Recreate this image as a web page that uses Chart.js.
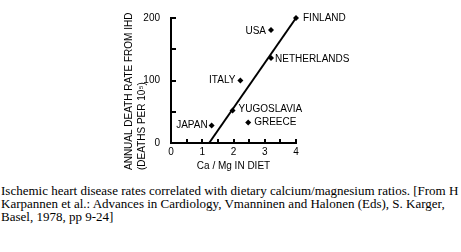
<!DOCTYPE html>
<html>
<head>
<meta charset="utf-8">
<script src="https://cdn.jsdelivr.net/npm/chart.js@4/dist/chart.umd.min.js"></script>
<style>
  html, body { margin: 0; padding: 0; background: #fff; width: 461px; height: 252px; overflow: hidden; }
  #wrap { position: absolute; left: 0; top: 0; width: 461px; height: 175px; }
  #caption { position: absolute; left: 1px; top: 184px; width: 470px; font: 13px "Liberation Serif", "Times New Roman", serif; line-height: 13px; color: #000; white-space: nowrap; }
</style>
</head>
<body>
<div id="wrap"><canvas id="c" width="461" height="175"></canvas></div>
<div id="caption">Ischemic heart disease rates correlated with dietary calcium/magnesium ratios. [From H<br>Karpannen et al.: Advances in Cardiology, Vmanninen and Halonen (Eds), S. Karger,<br>Basel, 1978, pp 9-24]</div>
<script>
// ---- data ----
const countries = ['FINLAND', 'USA', 'NETHERLANDS', 'ITALY', 'YUGOSLAVIA', 'GREECE', 'JAPAN'];
const caMgRatio = [4.0, 3.2, 3.2, 2.22, 1.97, 2.47, 1.3];
const deathRate = [200, 181, 136, 100, 52, 33, 28];
const fitLineX = [1.22, 4.0];
const fitLineY = [0, 200];
const xTickLabels = [0, 1, 2, 3, 4];
const yTickLabels = [0, 100, 200];
const xAxisTitle = 'Ca / Mg IN DIET';
const yAxisTitle = ['ANNUAL DEATH RATE FROM IHD', '(DEATHS PER 10\u2075)'];

const SANS = '"Liberation Sans", Arial, sans-serif';

// label placement (layout only)
const labelPlacement = {
  FINLAND: { side: 'right', dx: 7, dy: 0 },
  USA: { side: 'left', dx: 5, dy: 1 },
  NETHERLANDS: { side: 'right', dx: 4, dy: 1 },
  ITALY: { side: 'left', dx: 5, dy: 0 },
  YUGOSLAVIA: { side: 'right', dx: 6, dy: -1 },
  GREECE: { side: 'right', dx: 6, dy: 0 },
  JAPAN: { side: 'left', dx: 4, dy: 0 }
};

const decorPlugin = {
  id: 'decor',
  afterDraw(chart) {
    const ctx = chart.ctx;
    const xs = chart.scales.x, ys = chart.scales.y;
    const area = chart.chartArea;
    ctx.save();
    ctx.strokeStyle = '#000';
    ctx.fillStyle = '#000';
    ctx.lineWidth = 2;
    // inward tick marks
    ys.ticks.forEach(t => {
      const py = Math.round(ys.getPixelForValue(t.value));
      ctx.beginPath(); ctx.moveTo(area.left, py); ctx.lineTo(area.left + 5, py); ctx.stroke();
    });
    xs.ticks.forEach(t => {
      if (t.value === 0) return;
      const px = Math.round(xs.getPixelForValue(t.value));
      ctx.beginPath(); ctx.moveTo(px, area.bottom); ctx.lineTo(px, area.bottom - 4); ctx.stroke();
    });
    // point labels
    ctx.font = '10px ' + SANS;
    ctx.textBaseline = 'middle';
    const meta = chart.getDatasetMeta(1);
    meta.data.forEach((pt, i) => {
      const name = countries[i];
      const pl = labelPlacement[name];
      ctx.textAlign = pl.side === 'right' ? 'left' : 'right';
      const x = pt.x + (pl.side === 'right' ? pl.dx : -pl.dx);
      ctx.fillText(name, x, pt.y + pl.dy);
    });
    // x axis title
    ctx.textAlign = 'center';
    ctx.fillText(xAxisTitle, (area.left + area.right) / 2, 166);
    // y axis title (rotated, bottom aligned)
    ctx.translate(0, 170);
    ctx.rotate(-Math.PI / 2);
    ctx.textAlign = 'left';
    ctx.fillText(yAxisTitle[0], 0, 129);
    ctx.fillText(yAxisTitle[1], 0, 142);
    ctx.restore();
  }
};

new Chart(document.getElementById('c'), {
  data: {
    datasets: [
      {
        type: 'line',
        data: fitLineX.map((x, i) => ({ x, y: fitLineY[i] })),
        borderColor: '#000',
        borderWidth: 2,
        pointRadius: 0,
        fill: false,
        tension: 0
      },
      {
        type: 'scatter',
        data: caMgRatio.map((x, i) => ({ x, y: deathRate[i] })),
        pointStyle: 'rectRot',
        pointRadius: 3,
        backgroundColor: '#000',
        borderColor: '#000',
        borderWidth: 0
      }
    ]
  },
  options: {
    responsive: false,
    animation: false,
    events: [],
    clip: false,
    layout: { padding: { left: 0, top: 18, right: 165, bottom: 0 } },
    plugins: { legend: { display: false }, tooltip: { enabled: false } },
    scales: {
      x: {
        type: 'linear',
        min: 0, max: 4,
        afterFit: s => { s.height = 32; },
        ticks: {
          stepSize: 0.5,
          autoSkip: false,
          maxRotation: 0,
          padding: 3,
          color: '#000',
          font: { family: SANS, size: 10 },
          callback: v => xTickLabels.includes(v) ? String(v) : ''
        },
        grid: { display: false, drawTicks: false },
        border: { display: true, color: '#000', width: 2 }
      },
      y: {
        type: 'linear',
        min: 0, max: 200,
        afterFit: s => { s.width = 171; },
        ticks: {
          stepSize: 50,
          autoSkip: false,
          padding: 11,
          color: '#000',
          font: { family: SANS, size: 10 },
          callback: v => yTickLabels.includes(v) ? String(v) : ''
        },
        grid: { display: false, drawTicks: false },
        border: { display: true, color: '#000', width: 2 }
      }
    }
  },
  plugins: [decorPlugin]
});
</script>
</body>
</html>
